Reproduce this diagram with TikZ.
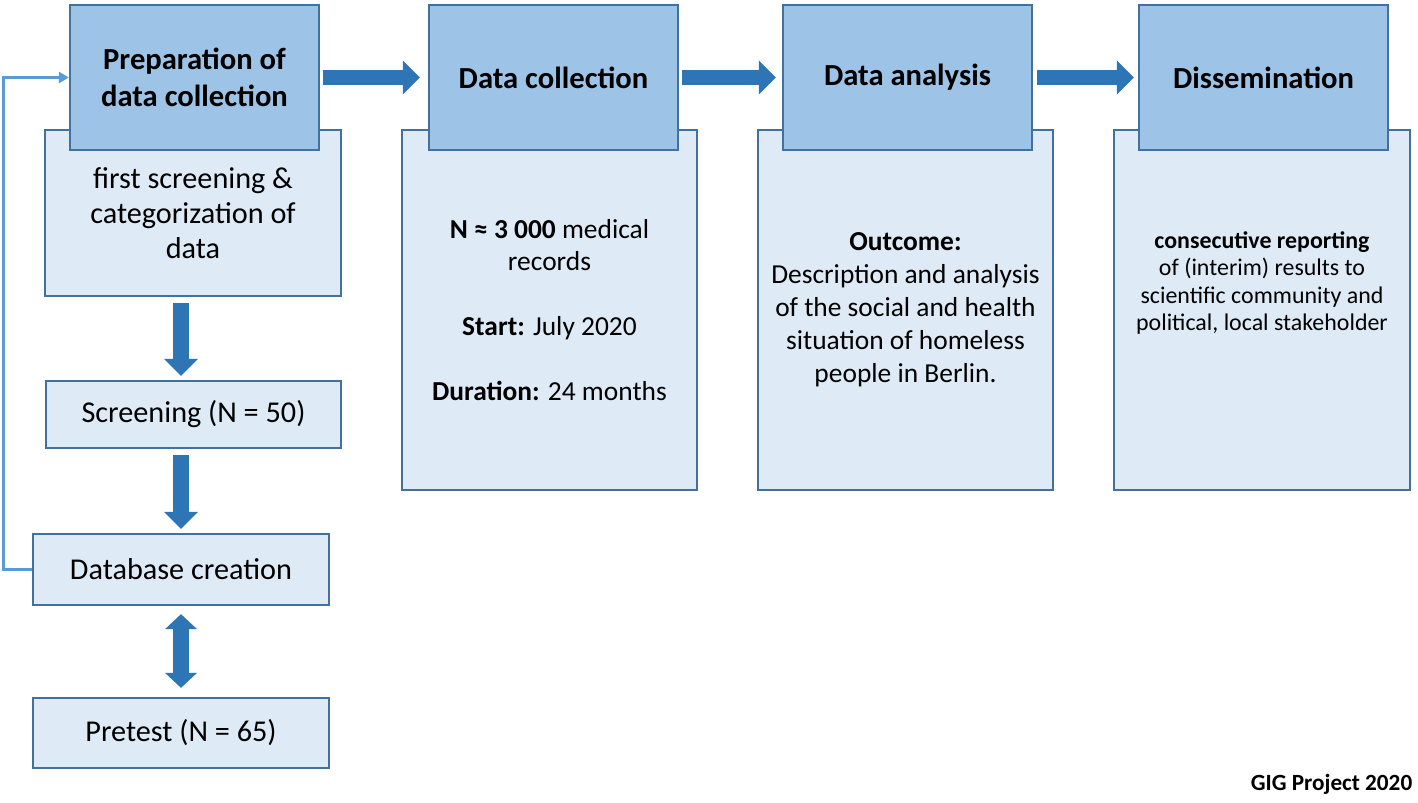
\documentclass[tikz,border=0pt]{standalone}
\usepackage{fontspec}
\setmainfont{Carlito}
\usetikzlibrary{arrows.meta}
\definecolor{hdr}{RGB}{157,195,230}
\definecolor{bdy}{RGB}{222,235,247}
\definecolor{edge}{RGB}{65,113,156}
\definecolor{arr}{RGB}{46,117,182}
\definecolor{loopc}{RGB}{91,155,213}

\begin{document}
\begin{tikzpicture}[x=0.01cm,y=-0.01cm,
  hdrbox/.style={draw=edge,fill=hdr,line width=0.6pt,inner sep=0pt,align=center,
    minimum width=2.49cm,minimum height=1.45cm,
    font=\fontsize{8.7pt}{10.5pt}\selectfont\bfseries},
  bdybox/.style={draw=edge,fill=bdy,line width=0.6pt,inner sep=0pt,align=center,
    minimum width=2.95cm},
  blockarr/.style={arr,line width=0.15cm,-{Triangle[width=0.33cm,length=0.17cm]}},
  dblarr/.style={arr,line width=0.15cm,{Triangle[width=0.31cm,length=0.15cm]}-{Triangle[width=0.31cm,length=0.15cm]}}]
  \useasboundingbox (0,0) rectangle (1418,803);

  % left column: preparation
  \node[bdybox,minimum height=1.66cm,font=\fontsize{8.6pt}{10pt}\selectfont]
    (prepBody) at (193,213) {first screening \&\\categorization of\\data};
  \node[hdrbox] (prepHead) at (194.5,77.5) {Preparation of\\data collection};
  \node[bdybox,minimum height=0.67cm,font=\fontsize{8.6pt}{10pt}\selectfont]
    (screen) at (193.5,414.5) {Screening (N = 50)};
  \node[bdybox,minimum height=0.71cm,font=\fontsize{8.6pt}{10pt}\selectfont]
    (dbase) at (181,569.5) {Database creation};
  \node[bdybox,minimum height=0.70cm,font=\fontsize{8.6pt}{10pt}\selectfont]
    (pretest) at (181,733) {Pretest (N = 65)};

  % data collection
  \node[bdybox,minimum height=3.60cm,font=\fontsize{7.8pt}{9.25pt}\selectfont]
    (collBody) at (549.5,310) {\textbf{N ≈ 3 000} medical\\records\\[9.25pt]
      \textbf{Start:} July 2020\\[9.25pt]\textbf{Duration:} 24 months};
  \node[hdrbox] (collHead) at (553.5,77.5) {Data collection};

  % data analysis
  \node[bdybox,minimum height=3.60cm,font=\fontsize{7.8pt}{9.4pt}\selectfont]
    (anaBody) at (905.5,310) {\textbf{Outcome:}\\Description and analysis\\of the social and health\\
      situation of homeless\\people in Berlin.};
  \node[hdrbox] (anaHead) at (907.5,77.5) {Data analysis};

  % dissemination
  \node[bdybox,minimum height=3.60cm] (dissBody) at (1262,310) {};
  \node[align=center,font=\fontsize{6.8pt}{7.8pt}\selectfont] (dissText) at (1262,283)
    {\textbf{consecutive reporting}\\of (interim) results to\\scientific community and\\political, local stakeholder};
  \node[hdrbox] (dissHead) at (1263.5,77.5) {Dissemination};

  % block arrows
  \draw[blockarr,shorten <=0.03cm,shorten >=0.08cm] (prepHead.east) -- (collHead.west);
  \draw[blockarr,shorten <=0.03cm,shorten >=0.06cm] (collHead.east) -- (anaHead.west);
  \draw[blockarr,shorten <=0.04cm,shorten >=0.04cm] (anaHead.east) -- (dissHead.west);
  \draw[blockarr,shorten <=0.06cm,shorten >=0.04cm] (prepBody.south -| dbase) -- (screen.north -| dbase);
  \draw[blockarr,shorten <=0.06cm,shorten >=0.04cm] (screen.south -| dbase) -- (dbase.north);
  \draw[dblarr,shorten <=0.08cm,shorten >=0.09cm] (dbase.south) -- (pretest.north);

  % feedback line
  \draw[loopc,line width=0.025cm,-{Triangle[width=0.11cm,length=0.1cm]}]
    (dbase.west) -- ++(-29,0) |- (prepHead.west);

  \node[anchor=base east,inner sep=0pt,font=\fontsize{6.6pt}{7pt}\selectfont\bfseries] (credit) at (1413,790) {GIG Project 2020};
\end{tikzpicture}
\end{document}
